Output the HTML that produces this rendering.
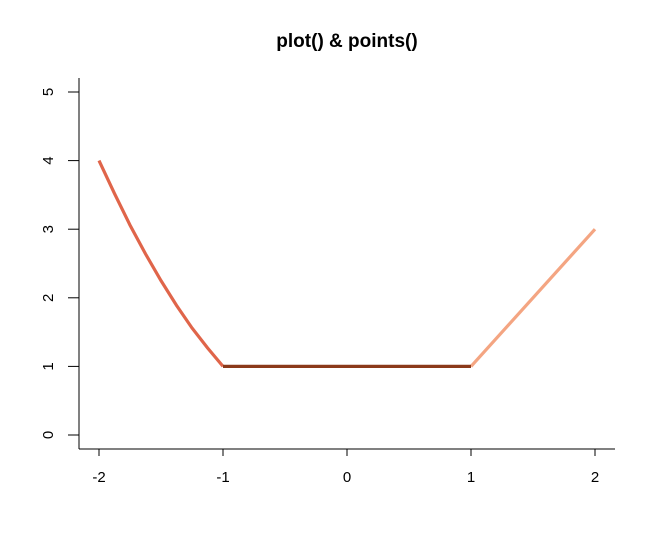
<!DOCTYPE html>
<html><head><meta charset="utf-8"><style>body{margin:0;background:#fff}svg{display:block}text{font-family:"Liberation Sans",sans-serif}</style></head>
<body>
<svg id="chart" width="656" height="547" xmlns="http://www.w3.org/2000/svg">
<text x="347" y="47" text-anchor="middle" font-size="19" font-weight="bold">plot() &amp; points()</text>
<line x1="79" y1="78" x2="79" y2="449" stroke="#000"/>
<line x1="79" y1="449" x2="615" y2="449" stroke="#000"/>
<g id="ticks"></g>
<g id="series"></g>
</svg>
<script>
const xTicks=[-2,-1,0,1,2];
const yTicks=[0,1,2,3,4,5];
const leftX=[-2,-1.875,-1.75,-1.625,-1.5,-1.375,-1.25,-1.125,-1];
const leftY=[4,3.52,3.06,2.64,2.25,1.89,1.56,1.27,1];
const midX=[-1,1];
const midY=[1,1];
const rightX=[1,2];
const rightY=[1,3];
const sx=v=>99+(v+2)*124;
const sy=v=>435-v*68.6;
const NS="http://www.w3.org/2000/svg";
const tg=document.getElementById('ticks');
xTicks.forEach(t=>{
 const l=document.createElementNS(NS,'line');
 
 
 l.setAttribute('x1',sx(t));l.setAttribute('x2',sx(t));l.setAttribute('y1',449);l.setAttribute('y2',456);l.setAttribute('stroke','#000');tg.appendChild(l);
 const tx=document.createElementNS(NS,'text');
 
 
 tx.setAttribute('x',sx(t));tx.setAttribute('y',482);tx.setAttribute('text-anchor','middle');tx.setAttribute('font-size','15');tx.textContent=t;tg.appendChild(tx);
});
yTicks.forEach(t=>{
 const l=document.createElementNS(NS,'line');
 
 
 l.setAttribute('x1',68);l.setAttribute('x2',79);l.setAttribute('y1',sy(t));l.setAttribute('y2',sy(t));l.setAttribute('stroke','#000');tg.appendChild(l);
 const tx=document.createElementNS(NS,'text');
 
 
 tx.setAttribute('transform','translate(53,'+sy(t)+') rotate(-90)');tx.setAttribute('text-anchor','middle');tx.setAttribute('font-size','15');tx.textContent=t;tg.appendChild(tx);
});
const sg=document.getElementById('series');
function line(xs,ys,c,name){
 const p=document.createElementNS(NS,'polyline');
 
 
 p.setAttribute('points',xs.map((x,i)=>sx(x)+','+sy(ys[i])).join(' '));
 p.setAttribute('fill','none');p.setAttribute('stroke',c);p.setAttribute('stroke-width','3.2');sg.appendChild(p);
}
line(leftX,leftY,'#E0654A','left-curve');
line(rightX,rightY,'#F4A582','right-line');
line(midX,midY,'#8B3A1A','middle-line');
</script>
</body></html>
